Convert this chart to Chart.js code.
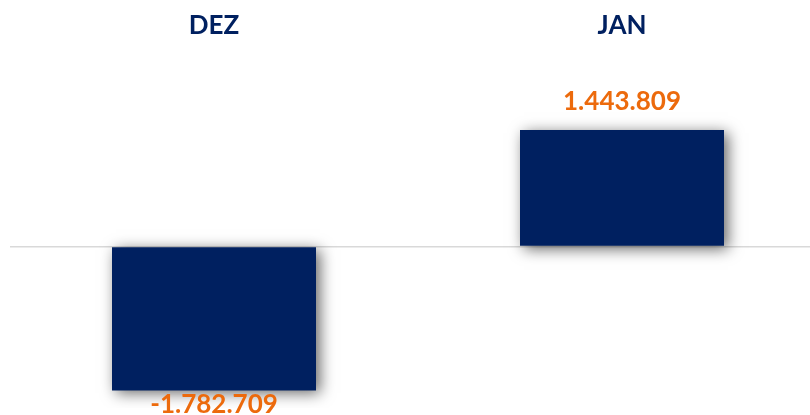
<!DOCTYPE html>
<html>
<head>
<meta charset="utf-8">
<script src="https://cdn.jsdelivr.net/npm/chart.js@4"></script>
<style>
  html, body { margin: 0; padding: 0; background: #fff; overflow: hidden; }
</style>
</head>
<body>
<canvas id="chart" width="826" height="415"></canvas>
<script>
'use strict';

let canvasElem = document.getElementById('chart');

// data
const months = ['DEZ', 'JAN'];
const saldo = [-1782709, 1443809];

const navy = '#002060';
const orange = '#EC6A0C';
const labelFont = 'bold 26px Lato, "Open Sans", sans-serif';

function fmt(v) {
  let s = Math.abs(v).toString().replace(/\B(?=(\d{3})+(?!\d))/g, '.');
  return (v < 0 ? '-' : '') + s;
}

// soft drop shadow under the bars
const barShadow = {
  id: 'barShadow',
  beforeDatasetsDraw(chart) {
    let ctx = chart.ctx;
    ctx.save();
    ctx.shadowColor = 'rgba(0, 0, 0, 0.6)';
    ctx.shadowBlur = 14;
    ctx.shadowOffsetX = 4;
    ctx.shadowOffsetY = 3;
  },
  afterDatasetsDraw(chart) {
    chart.ctx.restore();
  }
};

// month names on top + value labels
const labelsPlugin = {
  id: 'labelsPlugin',
  afterDraw(chart) {
    let ctx = chart.ctx;
    let xScale = chart.scales.x;
    ctx.save();
    ctx.font = labelFont;
    ctx.textAlign = 'center';
    ctx.textBaseline = 'alphabetic';
    ctx.fillStyle = navy;
    months.forEach((m, i) => {
      ctx.fillText(m, xScale.getPixelForValue(i), 34);
    });
    ctx.fillStyle = orange;
    chart.getDatasetMeta(0).data.forEach((bar, i) => {
      let v = saldo[i];
      if (v >= 0) {
        ctx.fillText(fmt(v), bar.x, bar.y - 20);
      } else {
        ctx.fillText(fmt(v), bar.x, bar.y + 23);
      }
    });
    ctx.restore();
  }
};

function renderChart() {
  new Chart(canvasElem, {
    type: 'bar',
    data: {
      labels: months,
      datasets: [{
        data: saldo,
        backgroundColor: navy,
        borderWidth: 0,
        barPercentage: 0.5,
        categoryPercentage: 1
      }]
    },
    options: {
      responsive: false,
      animation: false,
      devicePixelRatio: 1,
      layout: { padding: { top: 85, bottom: 7, left: 10, right: 0 } },
      plugins: {
        legend: { display: false },
        tooltip: { enabled: false }
      },
      scales: {
        x: { display: false },
        y: {
          min: -2000000,
          max: 2000000,
          ticks: { display: false, stepSize: 1000000 },
          border: { display: false },
          grid: {
            drawTicks: false,
            lineWidth: 1.5,
            color: ctx => (ctx.tick && ctx.tick.value === 0) ? '#d9d9d9' : 'transparent'
          }
        }
      }
    },
    plugins: [barShadow, labelsPlugin]
  });
}

renderChart();
</script>
</body>
</html>
